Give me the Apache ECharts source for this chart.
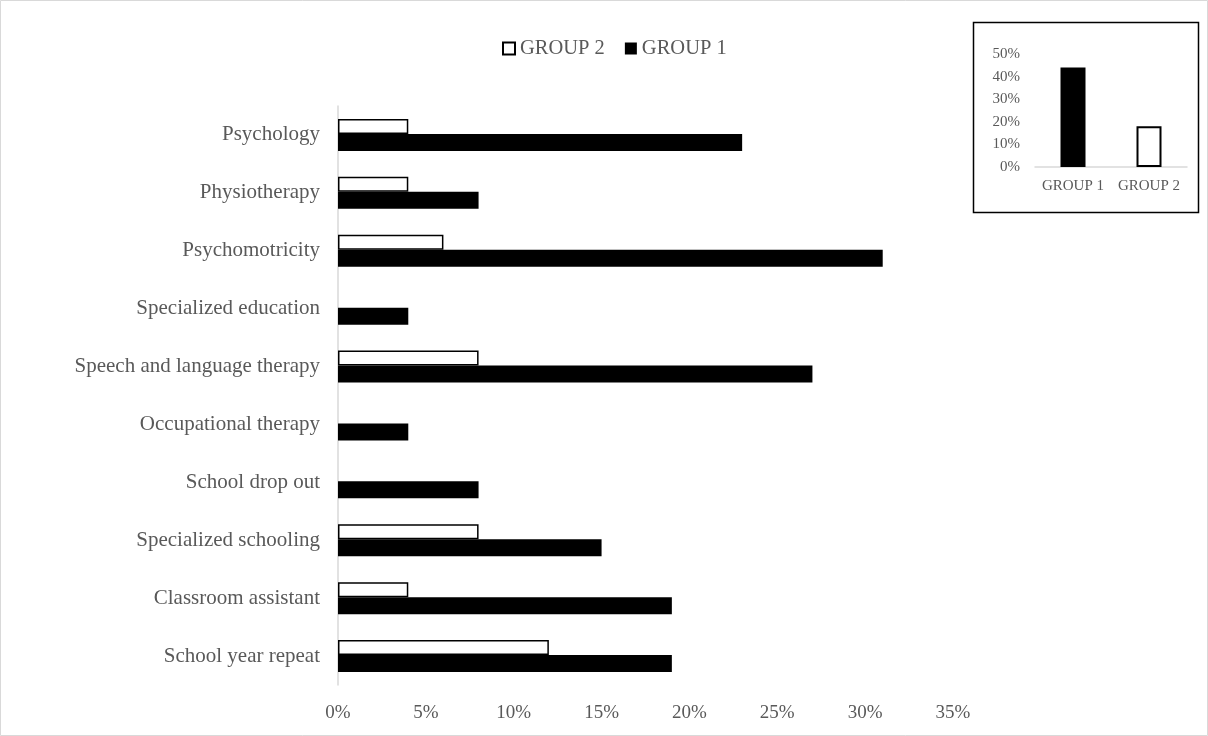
<!DOCTYPE html>
<html><head><meta charset="utf-8">
<script src="https://cdn.jsdelivr.net/npm/echarts@6/dist/echarts.min.js"></script>
<style>html,body{margin:0;padding:0;background:#fff}#c{width:1208px;height:736px}</style>
</head><body><div id="c"></div>
<script>
const categories = ['School year repeat','Classroom assistant','Specialized schooling','School drop out','Occupational therapy','Speech and language therapy','Specialized education','Psychomotricity','Physiotherapy','Psychology'];
const group1 = [19, 19, 15, 8, 4, 27, 4, 31, 8, 23];
const group2 = [12, 4, 8, 0, 0, 8, 0, 6, 4, 4];
const xTicks = [0, 5, 10, 15, 20, 25, 30, 35];
const insetCategories = ['GROUP 1', 'GROUP 2'];
const insetValues = [44, 18];

const FONT = '"Liberation Serif", "DejaVu Serif", serif';
const GREY = '#595959';
const chart = echarts.init(document.getElementById('c'));
chart.setOption({
  animation: false,
  backgroundColor: '#fff',
  textStyle: { fontFamily: FONT },
  legend: {
    top: 33, left: 497,
    data: [
      { name: 'GROUP 2', icon: 'rect', itemStyle: { color: '#fff', borderColor: '#000', borderWidth: 2 } },
      { name: 'GROUP 1', icon: 'rect', itemStyle: { color: '#000' } }
    ],
    itemWidth: 12, itemHeight: 12, itemGap: 20,
    textStyle: { fontFamily: FONT, fontSize: 20.5, color: GREY, padding: [0, 0, 0, 0] }
  },
  graphic: [
    { type: 'rect', shape: { x: 0.5, y: 0.5, width: 1207, height: 735 }, style: { fill: 'none', stroke: '#d9d9d9', lineWidth: 1 }, z: 0 },
    { type: 'rect', shape: { x: 973.5, y: 22.5, width: 225, height: 190 }, style: { fill: 'none', stroke: '#000', lineWidth: 1.5 }, z: 1 }
  ],
  grid: [
    { left: 338, right: 255, top: 106, bottom: 51 },
    { left: 1035, right: 21, top: 54, bottom: 569 }
  ],
  xAxis: [
    { type: 'value', gridIndex: 0, min: 0, max: 35, interval: 5,
      axisLine: { show: false }, axisTick: { show: false }, splitLine: { show: false },
      axisLabel: { formatter: v => xTicks.includes(v) ? v + '%' : '', fontFamily: FONT, fontSize: 19, color: GREY, margin: 19 } },
    { type: 'category', gridIndex: 1, data: insetCategories,
      axisLine: { show: true, lineStyle: { color: '#d9d9d9', width: 1.5 } }, axisTick: { show: false },
      axisLabel: { interval: 0, hideOverlap: false, fontFamily: FONT, fontSize: 15, color: GREY, margin: 12 } }
  ],
  yAxis: [
    { type: 'category', gridIndex: 0, data: categories,
      axisLine: { show: true, lineStyle: { color: '#d9d9d9', width: 1.5 } }, axisTick: { show: false },
      axisLabel: { interval: 0, fontFamily: FONT, fontSize: 21, color: GREY, margin: 18 } },
    { type: 'value', gridIndex: 1, min: 0, max: 50, interval: 10,
      axisLine: { show: false }, axisTick: { show: false }, splitLine: { show: false },
      axisLabel: { formatter: '{value}%', fontFamily: FONT, fontSize: 15, color: GREY, margin: 15 } }
  ],
  series: [
    { name: 'GROUP 2', type: 'bar', xAxisIndex: 0, yAxisIndex: 0, data: group2.map(v => v === 0 ? '-' : v),
      barWidth: 15, barGap: '0%', itemStyle: { color: '#fff', borderColor: '#000', borderWidth: 1.5 } },
    { name: 'GROUP 1', type: 'bar', xAxisIndex: 0, yAxisIndex: 0, data: group1,
      barWidth: 17, barGap: '0%', itemStyle: { color: '#000' } },
    { name: 'inset', type: 'bar', xAxisIndex: 1, yAxisIndex: 1, barWidth: 25, z: 3,
      data: insetValues.map((v, i) => ({ value: v, itemStyle: i === 0 ? { color: '#000' } : { color: '#fff', borderColor: '#000', borderWidth: 2 } })) }
  ]
});
</script></body></html>
